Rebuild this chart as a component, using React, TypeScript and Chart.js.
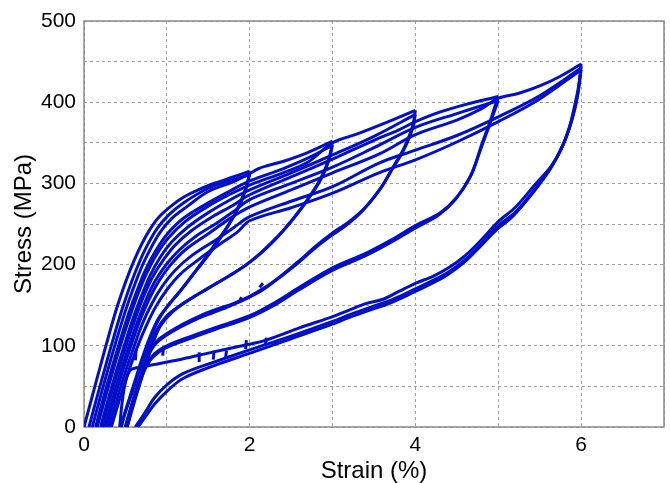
import React, { useEffect, useRef } from "react";
import { Chart, registerables } from "chart.js";

Chart.register(...registerables);

type Pt = [number, number];

// Cyclic tensile test: strain (%) vs stress (MPa), loading / unloading branches
const firstLoad: Pt[] = [
  [0, 0], [0.1, 38], [0.2, 76], [0.3, 113], [0.4, 148], [0.5, 178], [0.6, 204], [0.7, 226],
  [0.8, 244], [0.9, 258], [1.05, 272], [1.2, 283], [1.4, 293], [1.6, 301], [1.8, 308], [2.0, 315],
];

// 2 % cycles
const unload2a: Pt[] = [
  [2.0, 315], [1.97, 300], [1.92, 285], [1.85, 268], [1.75, 250], [1.6, 228], [1.45, 206], [1.3, 186],
  [1.15, 166], [1.0, 148], [0.9, 132], [0.8, 110], [0.7, 80], [0.6, 48], [0.5, 18], [0.45, 0],
];
const reload2b: Pt[] = [
  [0.06, 0], [0.16, 38], [0.26, 75], [0.36, 111], [0.46, 145], [0.56, 175], [0.66, 201], [0.76, 223],
  [0.88, 244], [1.02, 261], [1.2, 276], [1.5, 294], [1.75, 303], [2.0, 311],
];
const unload2b: Pt[] = [
  [2.0, 311], [1.96, 295], [1.9, 278], [1.8, 258], [1.68, 238], [1.52, 214], [1.35, 192], [1.18, 170],
  [1.02, 150], [0.9, 134], [0.8, 112], [0.7, 84], [0.6, 52], [0.5, 20], [0.44, 0],
];

// 3 % cycles
const load3a: Pt[] = [
  [0.1, 0], [0.2, 38], [0.3, 75], [0.4, 110], [0.5, 143], [0.6, 172], [0.7, 198], [0.8, 219],
  [0.92, 240], [1.06, 257], [1.25, 272], [1.5, 290], [1.8, 302], [2.0, 312], [2.1, 318], [2.22, 322],
  [2.4, 327], [2.7, 338], [3.0, 352],
];
const unload3a: Pt[] = [
  [3.0, 352], [2.97, 336], [2.92, 320], [2.85, 305], [2.75, 288], [2.6, 266], [2.4, 241], [2.2, 220],
  [2.0, 203], [1.8, 189], [1.6, 177], [1.4, 165], [1.2, 152], [1.05, 140], [0.92, 124], [0.82, 100],
  [0.72, 68], [0.62, 35], [0.52, 0],
];
const reload3b: Pt[] = [
  [0.14, 0], [0.24, 38], [0.34, 74], [0.44, 108], [0.54, 140], [0.64, 168], [0.74, 193], [0.86, 216],
  [1.0, 237], [1.2, 257], [1.5, 276], [1.75, 290], [2.0, 303], [2.4, 318], [2.7, 331], [3.0, 347],
];
const unload3b: Pt[] = [
  [3.0, 347], [2.96, 330], [2.9, 314], [2.82, 298], [2.7, 280], [2.55, 260], [2.35, 236], [2.15, 216],
  [1.95, 199], [1.75, 186], [1.55, 174], [1.35, 162], [1.15, 149], [1.0, 137], [0.88, 120], [0.78, 95],
  [0.68, 62], [0.58, 28], [0.5, 0],
];

// 4 % cycles
const load4a: Pt[] = [
  [0.16, 0], [0.26, 37], [0.36, 73], [0.46, 107], [0.56, 138], [0.66, 166], [0.76, 190], [0.88, 213],
  [1.02, 233], [1.22, 253], [1.5, 272], [1.75, 286], [2.0, 298], [2.4, 313], [2.7, 326], [3.0, 350],
  [3.3, 361], [3.6, 373], [4.0, 390],
];
const unload4a: Pt[] = [
  [4.0, 390], [3.97, 372], [3.92, 357], [3.85, 341], [3.76, 325], [3.6, 297], [3.4, 271], [3.2, 253],
  [3.0, 239], [2.8, 223], [2.6, 205], [2.4, 188], [2.2, 173], [2.0, 161], [1.8, 152], [1.6, 145],
  [1.4, 137], [1.2, 127], [1.0, 115], [0.88, 106], [0.78, 90], [0.68, 60], [0.58, 28], [0.5, 0],
];
const reload4b: Pt[] = [
  [0.2, 0], [0.3, 37], [0.4, 72], [0.5, 105], [0.6, 136], [0.7, 163], [0.8, 187], [0.92, 209],
  [1.06, 228], [1.25, 246], [1.5, 264], [1.75, 279], [2.0, 292], [2.5, 313], [3.0, 335], [3.5, 358],
  [4.0, 385],
];
const unload4b: Pt[] = [
  [4.0, 385], [3.96, 366], [3.9, 350], [3.82, 334], [3.72, 318], [3.56, 291], [3.36, 266], [3.16, 248],
  [2.96, 234], [2.76, 218], [2.56, 200], [2.36, 184], [2.16, 169], [1.96, 158], [1.76, 149], [1.56, 141],
  [1.36, 133], [1.16, 123], [0.98, 112], [0.86, 102], [0.76, 84], [0.66, 55], [0.56, 22], [0.5, 0],
];

// 5 % cycles
const load5a: Pt[] = [
  [0.22, 0], [0.32, 37], [0.42, 72], [0.52, 104], [0.62, 134], [0.72, 161], [0.83, 185], [0.96, 206],
  [1.1, 224], [1.3, 242], [1.55, 259], [1.8, 273], [2.0, 286], [2.5, 308], [3.0, 330], [3.5, 353],
  [3.8, 366], [4.0, 376], [4.3, 388], [4.6, 397], [5.0, 407],
];
const unload5a: Pt[] = [
  [5.0, 407], [4.96, 395], [4.9, 376], [4.8, 348], [4.68, 312], [4.5, 283], [4.3, 264], [4.0, 248],
  [3.7, 230], [3.4, 214], [3.0, 196], [2.6, 172], [2.3, 153], [2.0, 137], [1.6, 123], [1.3, 112],
  [1.0, 100], [0.85, 90], [0.75, 75], [0.65, 48], [0.56, 18], [0.52, 0],
];
const reload5b: Pt[] = [
  [0.25, 0], [0.35, 36], [0.45, 71], [0.55, 102], [0.65, 131], [0.75, 157], [0.86, 180], [1.0, 201],
  [1.15, 218], [1.35, 235], [1.6, 251], [1.8, 265], [2.0, 280], [2.5, 300], [3.0, 320], [3.5, 344],
  [4.0, 369], [4.5, 386], [5.0, 402],
];
const unload5b: Pt[] = [
  [5.0, 402], [4.95, 388], [4.88, 368], [4.78, 340], [4.66, 308], [4.48, 280], [4.28, 261], [3.98, 244],
  [3.68, 226], [3.38, 210], [2.98, 192], [2.58, 168], [2.28, 149], [1.98, 134], [1.58, 120], [1.28, 109],
  [0.98, 97], [0.83, 86], [0.73, 70], [0.63, 42], [0.55, 12], [0.52, 0],
];

// 6 % cycles
const load6a: Pt[] = [
  [0.27, 0], [0.37, 36], [0.47, 70], [0.57, 101], [0.67, 130], [0.78, 156], [0.9, 179], [1.04, 199],
  [1.22, 218], [1.5, 238], [1.75, 256], [2.0, 271], [2.5, 292], [3.0, 313], [3.56, 336], [4.0, 360],
  [4.5, 378], [4.8, 392], [5.0, 405], [5.25, 411], [5.5, 420], [5.75, 432], [6.0, 447],
];
const unload6a: Pt[] = [
  [6.0, 447], [5.97, 420], [5.92, 395], [5.85, 366], [5.75, 340], [5.63, 320], [5.44, 298], [5.2, 270],
  [5.0, 253], [4.8, 231], [4.6, 211], [4.4, 196], [4.2, 185], [4.0, 177], [3.8, 167], [3.6, 157],
  [3.4, 152], [3.2, 144], [3.0, 136], [2.6, 122], [2.2, 107], [1.95, 101], [1.5, 91], [1.2, 84],
  [0.9, 78], [0.7, 74], [0.56, 70], [0.5, 55], [0.46, 30], [0.43, 0],
];
const reload6b: Pt[] = [
  [0.3, 0], [0.4, 35], [0.5, 68], [0.6, 98], [0.7, 126], [0.82, 152], [0.95, 174], [1.1, 193],
  [1.3, 211], [1.6, 231], [1.8, 245], [2.0, 259], [2.5, 278], [3.0, 296], [3.56, 325], [4.0, 341],
  [4.5, 359], [5.0, 382], [5.5, 408], [6.0, 442],
];
const unload6b: Pt[] = [
  [6.0, 444], [5.96, 410], [5.9, 382], [5.8, 352], [5.65, 322], [5.45, 294], [5.2, 264], [5.0, 248],
  [4.8, 226], [4.6, 206], [4.4, 191], [4.2, 180], [4.0, 170], [3.7, 156], [3.5, 149], [3.2, 138],
  [3.0, 130], [2.5, 112], [2.0, 95], [1.6, 81], [1.2, 66], [1.0, 52], [0.85, 36], [0.75, 20],
  [0.66, 6], [0.62, 0],
];
const reload6c: Pt[] = [
  [0.33, 0], [0.43, 34], [0.53, 66], [0.63, 95], [0.74, 122], [0.86, 147], [1.0, 169], [1.16, 188],
  [1.38, 206], [1.65, 226], [1.85, 240], [2.0, 254], [2.5, 270], [3.0, 288], [3.56, 313], [4.0, 329],
  [4.5, 351], [5.0, 376], [5.5, 404], [6.0, 440],
];
const unload6c: Pt[] = [
  [6.0, 440], [5.95, 405], [5.88, 376], [5.78, 347], [5.63, 318], [5.43, 290], [5.18, 260], [4.98, 243],
  [4.78, 222], [4.58, 202], [4.38, 187], [4.18, 176], [3.98, 166], [3.68, 152], [3.48, 145], [3.18, 134],
  [2.98, 126], [2.48, 108], [1.98, 90], [1.58, 76], [1.2, 60], [1.0, 44], [0.85, 28], [0.75, 14],
  [0.68, 4], [0.65, 0],
];

// short serrations on the lower unloading branches
const serrations: Pt[][] = [
  [[0.62, 82], [0.63, 95]],
  [[0.78, 86], [0.79, 97]],
  [[0.95, 88], [0.96, 99]],
  [[1.39, 80], [1.39, 92]],
  [[1.56, 83], [1.57, 94]],
  [[1.71, 86], [1.72, 94]],
  [[1.95, 96], [1.96, 107]],
  [[2.19, 102], [2.2, 110]],
  [[2.3, 100], [2.31, 106]],
  [[1.88, 155], [1.9, 160]],
  [[2.12, 172], [2.16, 177]],
];

const curves: Pt[][] = [
  firstLoad, unload2a, reload2b, unload2b,
  load3a, unload3a, reload3b, unload3b,
  load4a, unload4a, reload4b, unload4b,
  load5a, unload5a, reload5b, unload5b,
  load6a, unload6a, reload6b, unload6b, reload6c, unload6c,
  ...serrations,
];

const xLabels = [0, 2, 4, 6];
const yLabels = [0, 100, 200, 300, 400, 500];
const xTitle = "Strain (%)";
const yTitle = "Stress (MPa)";

const LINE = "rgb(0, 16, 200)";
const FONT = "'Liberation Sans', Arial, sans-serif";

const framePlugin = {
  id: "frame",
  beforeDatasetsDraw(chart: Chart) {
    const { ctx, chartArea: a } = chart;
    ctx.save();
    ctx.strokeStyle = "#8a8a8a";
    ctx.lineWidth = 1.5;
    ctx.strokeRect(a.left, a.top, a.right - a.left, a.bottom - a.top);
    ctx.restore();
  },
};

export default function App() {
  const ref = useRef<HTMLCanvasElement | null>(null);

  useEffect(() => {
    if (!ref.current) return;
    const chart = new Chart(ref.current, {
      type: "scatter",
      data: {
        datasets: curves.map((c) => ({
          data: c.map(([x, y]) => ({ x, y })),
          showLine: true,
          borderColor: LINE,
          backgroundColor: LINE,
          borderWidth: 3,
          pointRadius: 0,
          pointHoverRadius: 0,
          tension: 0.35,
          fill: false,
        })),
      },
      options: {
        responsive: false,
        animation: false,
        devicePixelRatio: 1,
        layout: { padding: { top: 21, right: 4, left: 0, bottom: 0 } },
        plugins: { legend: { display: false }, tooltip: { enabled: false } },
        scales: {
          x: {
            type: "linear",
            min: 0,
            max: 7,
            border: { display: false, dash: [3, 3] },
            grid: {
              color: "#a0a0a0",
              lineWidth: 1,
              drawTicks: false,
            },
            ticks: {
              stepSize: 1,
              padding: 6,
              color: "#000",
              font: { family: FONT, size: 21 },
              maxRotation: 0,
              callback: (v: any) => (xLabels.includes(Number(v)) ? String(v) : ""),
            },
            title: {
              display: true,
              text: xTitle,
              color: "#000",
              font: { family: FONT, size: 24, lineHeight: 1 },
              padding: { top: 0, bottom: 0 },
            },
            afterFit: (s: any) => {
              s.height = 56;
            },
          },
          y: {
            type: "linear",
            min: 0,
            max: 500,
            border: { display: false, dash: [3, 3] },
            grid: {
              color: "#a0a0a0",
              lineWidth: 1,
              drawTicks: false,
            },
            ticks: {
              stepSize: 50,
              padding: 8,
              color: "#000",
              font: { family: FONT, size: 21 },
              callback: (v: any) => (yLabels.includes(Number(v)) ? String(v) : ""),
            },
            title: {
              display: true,
              text: yTitle,
              color: "#000",
              font: { family: FONT, size: 24, lineHeight: 1 },
              padding: { top: 12, bottom: 0 },
            },
            afterFit: (s: any) => {
              s.width = 84;
            },
          },
        },
      },
      plugins: [framePlugin],
    });
    return () => chart.destroy();
  }, []);

  return (
    <div style={{ position: "absolute", left: 0, top: 0, width: 670, height: 483, background: "#fff" }}>
      <canvas ref={ref} width={670} height={483} />
    </div>
  );
}
